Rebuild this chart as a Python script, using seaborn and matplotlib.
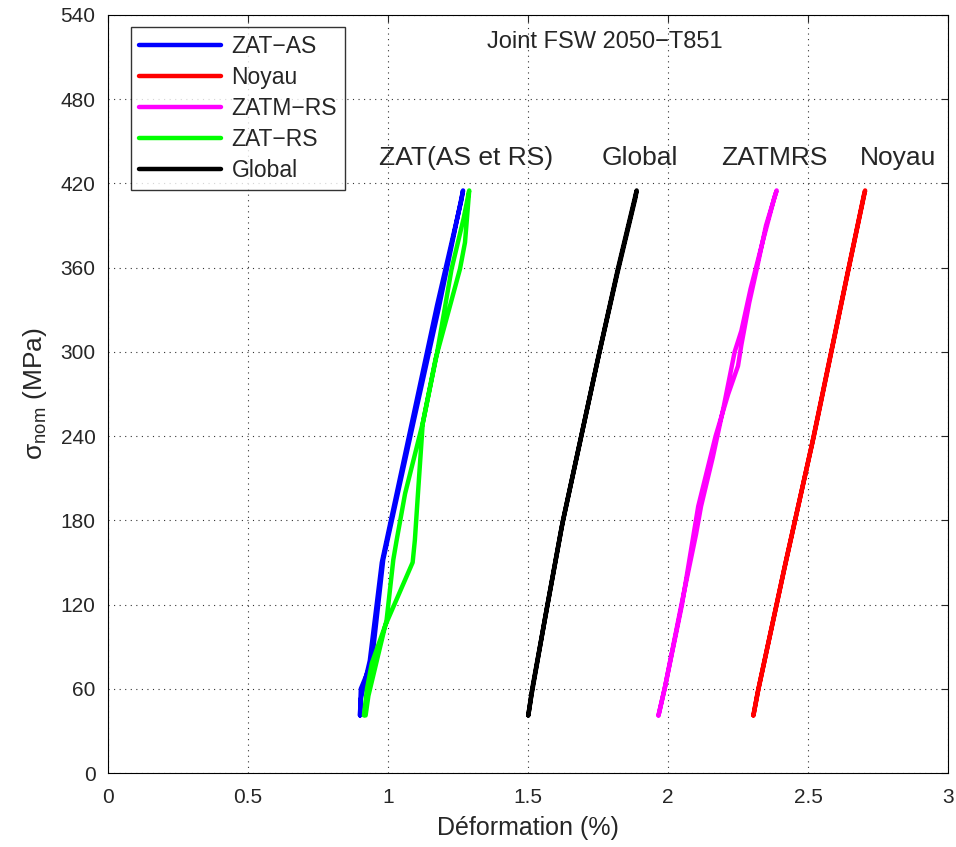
import matplotlib
matplotlib.use("Agg")
import matplotlib.pyplot as plt
import seaborn as sns
import pandas as pd

# courbes charge / decharge, deformation (%) et contrainte (MPa)
zat_as_x = [0.900, 0.903, 0.942, 0.983, 1.080, 1.180, 1.268, 1.262, 1.175, 1.075, 0.978, 0.935, 0.902, 0.900]
zat_as_y = [41, 60, 79, 152, 240, 330, 415, 408, 333, 240, 150, 80, 52, 41]

noyau_x = [2.305, 2.323, 2.420, 2.521, 2.646, 2.704, 2.700, 2.640, 2.515, 2.415, 2.320, 2.305]
noyau_y = [41, 60, 150, 240, 360, 415, 412, 355, 235, 145, 57, 41]

zatm_rs_x = [1.966, 1.990, 2.050, 2.108, 2.170, 2.215, 2.250, 2.262, 2.290, 2.318, 2.350, 2.388,
             2.380, 2.340, 2.295, 2.262, 2.238, 2.200, 2.160, 2.118, 2.100, 2.048, 1.988, 1.966]
zatm_rs_y = [41, 62, 120, 190, 240, 270, 290, 305, 335, 360, 390, 415,
             410, 380, 345, 315, 300, 262, 225, 190, 170, 120, 60, 41]

zat_rs_x = [0.914, 0.925, 0.942, 0.990, 1.088, 1.096, 1.107, 1.124, 1.170, 1.257, 1.275, 1.290,
            1.270, 1.227, 1.175, 1.125, 1.061, 1.031, 1.019, 0.995, 0.960, 0.930, 0.920]
zat_rs_y = [41, 60, 78, 105, 150, 166, 199, 249, 295, 359, 378, 415,
            395, 359, 299, 250, 199, 166, 152, 109, 80, 55, 41]

global_x = [1.501, 1.515, 1.570, 1.625, 1.690, 1.755, 1.822, 1.888, 1.884, 1.818, 1.750, 1.685, 1.620, 1.565, 1.512, 1.501]
global_y = [41, 60, 120, 180, 240, 300, 360, 415, 410, 355, 295, 235, 175, 115, 55, 41]

series = ["ZAT\u2212AS", "Noyau", "ZATM\u2212RS", "ZAT\u2212RS", "Global"]
xs = [zat_as_x, noyau_x, zatm_rs_x, zat_rs_x, global_x]
ys = [zat_as_y, noyau_y, zatm_rs_y, zat_rs_y, global_y]
couleurs = ["#0000ff", "#ff0000", "#ff00ff", "#00ff00", "#000000"]

labels_txt = ["ZAT(AS et RS)", "Global", "ZATMRS", "Noyau"]
labels_x = [1.279, 1.9, 2.38, 2.82]

sns.set_style("white")
plt.rcParams['font.family'] = ['Liberation Sans', 'DejaVu Sans']
plt.rcParams['mathtext.default'] = 'regular'

fig = plt.figure(figsize=(9.56, 8.47), dpi=100)
ax = fig.add_axes([108 / 956, 74 / 847, 840 / 956, 758 / 847])

for nom, x, y, c in zip(series, xs, ys, couleurs):
    df = pd.DataFrame({"x": x, "y": y})
    sns.lineplot(data=df, x="x", y="y", sort=False, estimator=None, color=c,
                 linewidth=3.2, label=nom, ax=ax, solid_capstyle='round', solid_joinstyle='round')

ax.set_xlim(0, 3)
ax.set_ylim(0, 540)
ax.set_xticks([0, 0.5, 1, 1.5, 2, 2.5, 3])
ax.set_xticklabels(["0", "0.5", "1", "1.5", "2", "2.5", "3"])
ax.set_yticks(range(0, 541, 60))
ax.tick_params(direction='in', length=5, labelsize=15, top=True, right=True, width=0.8)
ax.tick_params(axis='x', pad=11)
ax.tick_params(axis='y', pad=9)
ax.grid(True, linestyle=(0, (1, 4)), color='black', linewidth=0.8, alpha=0.8)
for s in ax.spines.values():
    s.set_color('black')
    s.set_linewidth(0.8)

ax.set_xlabel("Déformation (%)", fontsize=18, labelpad=6)
ax.set_ylabel(r"$\sigma_{nom}$ (MPa)", fontsize=19, labelpad=8)

for t, xt in zip(labels_txt, labels_x):
    ax.text(xt, 438, t, ha='center', va='center', fontsize=19)
ax.text(1.775, 521, "Joint FSW 2050\u2212T851", ha='center', va='center', fontsize=17)

leg = ax.legend(loc='upper left', bbox_to_anchor=(0.027, 0.984), borderaxespad=0,
                fontsize=16.5, handlelength=3.6, frameon=True, fancybox=False,
                labelspacing=0.35, borderpad=0.35, handletextpad=0.45)
leg.get_frame().set_edgecolor('black')
leg.get_frame().set_linewidth(1.0)

fig.savefig("out.png", dpi=100)
